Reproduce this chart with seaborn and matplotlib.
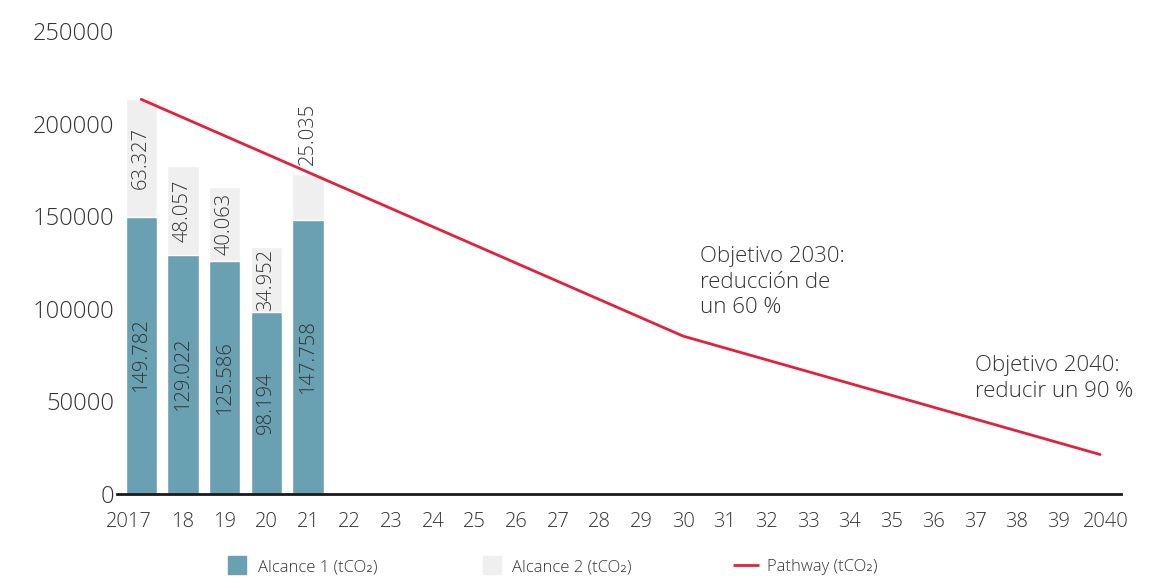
import numpy as np
import pandas as pd
import matplotlib
matplotlib.use('Agg')
import matplotlib.pyplot as plt
import matplotlib.transforms as mtransforms
import seaborn as sns
from matplotlib.lines import Line2D

# datos
years = list(range(2017, 2041))
year_labels = ['2017'] + [str(y)[2:] for y in years[1:-1]] + ['2040']
bar_years = [2017, 2018, 2019, 2020, 2021]
alcance1 = [149782, 129022, 125586, 98194, 147758]
alcance2 = [63327, 48057, 40063, 34952, 25035]
alcance1_txt = ['149.782', '129.022', '125.586', '98.194', '147.758']
alcance2_txt = ['63.327', '48.057', '40.063', '34.952', '25.035']
path_years = [2017, 2030, 2040]
path_values = [213109, 85244, 21311]

c_a1 = '#6aa1b2'
c_a2 = '#efefef'
c_path = '#e2223c'
c_txt = '#333333'

sns.set_theme(style='white')
plt.rcParams['font.family'] = ['Open Sans', 'DejaVu Sans']
plt.rcParams['font.weight'] = 'light'

df = pd.DataFrame({
    'year': [year_labels[y - 2017] for y in bar_years],
    'a1': alcance1,
    'total': np.array(alcance1) + np.array(alcance2),
})

fig = plt.figure(figsize=(11.61, 5.79), dpi=100)
ax = fig.add_axes([117 / 1161, 1 - 494 / 579, (1121 - 117) / 1161, (494 - 31) / 579])

sns.barplot(data=df, x='year', y='total', order=year_labels, color=c_a2,
            saturation=1, width=0.75, ax=ax)
sns.barplot(data=df, x='year', y='a1', order=year_labels, color=c_a1,
            saturation=1, width=0.75, ax=ax)

path_df = pd.DataFrame({'pos': [y - 2017 for y in path_years], 'v': path_values})
sns.lineplot(data=path_df, x='pos', y='v', color=c_path, lw=2.0, ax=ax)

# etiquetas de las barras
for i, y in enumerate(bar_years):
    p = y - 2017
    ax.text(p, alcance1[i] / 2, alcance1_txt[i], rotation=90, ha='center', va='center',
            fontsize=14.5, color=c_txt)
    if alcance2[i] > 30000:
        ax.text(p, alcance1[i] + alcance2[i] / 2, alcance2_txt[i], rotation=90,
                ha='center', va='center', fontsize=14.5, color=c_txt)
    else:
        ax.text(p, alcance1[i] + alcance2[i] + 5000, alcance2_txt[i], rotation=90,
                ha='center', va='bottom', fontsize=14.5, color=c_txt)

ax.text(13.4, 134000, 'Objetivo 2030:\nreducción de\nun 60 %', ha='left', va='top',
        fontsize=16, color=c_txt, linespacing=1.3)
ax.text(20.0, 75000, 'Objetivo 2040:\nreducir un 90 %', ha='left', va='top',
        fontsize=16, color=c_txt, linespacing=1.3)

ax.set_xlim(-0.58, 23.5)
ax.set_ylim(0, 250000)
ax.set_yticks([0, 50000, 100000, 150000, 200000, 250000])
ax.set_yticklabels(['0', '50000', '100000', '150000', '200000', '250000'])
ax.set_xticks(range(len(year_labels)))
ax.set_xticklabels(year_labels)
ax.tick_params(axis='y', length=0, pad=2, labelsize=17, colors=c_txt)
ax.tick_params(axis='x', length=0, pad=13, labelsize=14.5, colors=c_txt)
xt = ax.get_xticklabels()
xt[0].set_transform(xt[0].get_transform() + mtransforms.ScaledTranslation(-0.12, 0, fig.dpi_scale_trans))
xt[-1].set_transform(xt[-1].get_transform() + mtransforms.ScaledTranslation(0.06, 0, fig.dpi_scale_trans))
ax.set_xlabel('')
ax.set_ylabel('')
for s in ['top', 'right', 'left']:
    ax.spines[s].set_visible(False)
ax.spines['bottom'].set_color('#1a1a1a')
ax.spines['bottom'].set_linewidth(2)

handles = [
    Line2D([], [], marker='s', linestyle='none', markersize=13, color=c_a1),
    Line2D([], [], marker='s', linestyle='none', markersize=13, color=c_a2),
    Line2D([], [], marker='_', linestyle='none', markersize=19, markeredgewidth=2, color=c_path),
]
labels = ['Alcance 1 (tCO₂)', 'Alcance 2 (tCO₂)', 'Pathway (tCO₂)']
fig.legend(handles, labels, ncol=3, loc='center left', bbox_to_anchor=(204 / 1161, 1 - 567 / 579),
           frameon=False, fontsize=12, handlelength=2.2, columnspacing=5.75,
           handletextpad=0.14, labelcolor=c_txt)

fig.savefig('out.png', dpi=100)
